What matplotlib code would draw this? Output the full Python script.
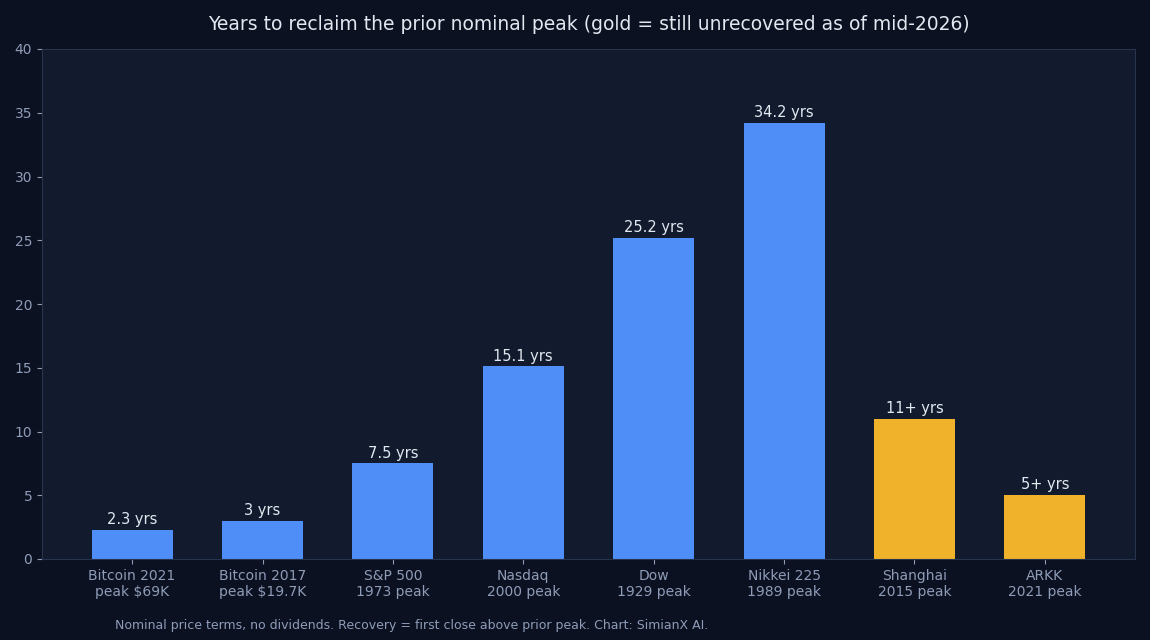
import matplotlib
matplotlib.use("Agg")
import matplotlib.pyplot as plt

categories = ["Bitcoin 2021\npeak $69K", "Bitcoin 2017\npeak $19.7K", "S&P 500\n1973 peak",
              "Nasdaq\n2000 peak", "Dow\n1929 peak", "Nikkei 225\n1989 peak",
              "Shanghai\n2015 peak", "ARKK\n2021 peak"]
years = [2.3, 3.0, 7.5, 15.1, 25.2, 34.2, 11.0, 5.0]
labels = ["2.3 yrs", "3 yrs", "7.5 yrs", "15.1 yrs", "25.2 yrs", "34.2 yrs", "11+ yrs", "5+ yrs"]
unrecovered = [False, False, False, False, False, False, True, True]

BG = "#0b1120"
AX_BG = "#111b2d"
BLUE = "#4f8ef7"
GOLD = "#efb22a"
SPINE = "#27344d"
TICK = "#8e9cb8"
TEXT = "#e2e8f0"

fig = plt.figure(figsize=(11.5, 6.4), dpi=100, facecolor=BG)
ax = fig.add_axes([42 / 1150, 1 - 559 / 640, (1135 - 42) / 1150, (559 - 49) / 640])
ax.set_facecolor(AX_BG)

colors = [GOLD if u else BLUE for u in unrecovered]
x = list(range(len(categories)))
bars = ax.bar(x, years, width=0.62, color=colors, zorder=2)

for b, lab in zip(bars, labels):
    ax.annotate(lab, (b.get_x() + b.get_width() / 2, b.get_height()),
                xytext=(0, 2), textcoords="offset points",
                ha="center", va="bottom", color=TEXT, fontsize=10.5)

ax.set_ylim(0, 40)
ax.set_xticks(x)
ax.set_xticklabels(categories, color=TICK, fontsize=10)
ax.tick_params(axis="y", colors=TICK, labelsize=10)
ax.tick_params(axis="x", colors=TICK)
for s in ax.spines.values():
    s.set_color(SPINE)

# title is centred over the axes, not the figure
fig.text(588.5 / 1150, 1 - 24 / 640,
         "Years to reclaim the prior nominal peak (gold = still unrecovered as of mid-2026)",
         color=TEXT, fontsize=13.5, ha="center", va="center")
fig.text(115 / 1150, 1 - 626 / 640,
         "Nominal price terms, no dividends. Recovery = first close above prior peak. Chart: SimianX AI.",
         color=TICK, fontsize=9, va="center", ha="left")

fig.savefig("out.png", dpi=100, facecolor=BG)
